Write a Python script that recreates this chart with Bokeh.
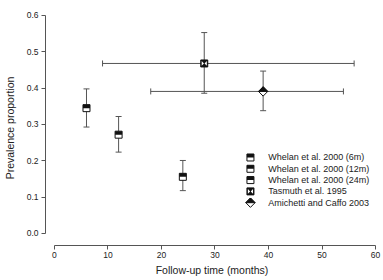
from bokeh.plotting import figure
from bokeh.models import Range1d, FixedTicker, PrintfTickFormatter, Whisker, TeeHead, ColumnDataSource
from bokeh.embed import file_html
from bokeh.resources import INLINE
from bokeh.core.properties import value

# ---------------- data ----------------
study_names = ["Whelan et al. 2000 (6m)", "Whelan et al. 2000 (12m)",
               "Whelan et al. 2000 (24m)", "Tasmuth et al. 1995",
               "Amichetti and Caffo 2003"]
whelan_time = [6, 12, 24]
whelan_prev = [0.345, 0.272, 0.156]
whelan_lower = [0.293, 0.224, 0.118]
whelan_upper = [0.398, 0.322, 0.201]

tasmuth_time = [28]
tasmuth_time_lower = [9]
tasmuth_time_upper = [56]
tasmuth_prev = [0.468]
tasmuth_lower = [0.386]
tasmuth_upper = [0.553]

amichetti_time = [39]
amichetti_time_lower = [18]
amichetti_time_upper = [54]
amichetti_prev = [0.391]
amichetti_lower = [0.338]
amichetti_upper = [0.447]

x_ticks = [0, 10, 20, 30, 40, 50, 60]
y_ticks = [0.0, 0.1, 0.2, 0.3, 0.4, 0.5, 0.6]

# ---------------- layout / style ----------------
FONT = "Liberation Sans"
INK = "#111111"
LINE = "#555555"
TEXT = "#222222"

X_START, X_END = -1.6564, 60.5521
Y_START, Y_END = -0.03303, 0.61376
FRAME_W, FRAME_H = 338, 235
PX = (X_END - X_START) / FRAME_W   # data units per screen px (x)
PY = (Y_END - Y_START) / FRAME_H   # data units per screen px (y)

legend_sym_x = 36.63
legend_txt_x = 39.94
legend_top = 0.2092
legend_step = 0.0311

p = figure(width=383, height=280, x_range=Range1d(X_START, X_END),
           y_range=Range1d(Y_START, Y_END), output_backend="svg",
           toolbar_location=None, min_border_left=40, min_border_right=5,
           min_border_top=10, min_border_bottom=35)
p.outline_line_color = None
p.xgrid.visible = False
p.ygrid.visible = False
p.background_fill_color = "white"

for ax, ticks, lo, hi in ((p.xaxis[0], x_ticks, 0, 60), (p.yaxis[0], y_ticks, 0, 0.6)):
    ax.bounds = (lo, hi)
    ax.ticker = FixedTicker(ticks=ticks, minor_ticks=[])
    ax.axis_line_color = LINE
    ax.major_tick_line_color = LINE
    ax.major_tick_out = 4
    ax.major_tick_in = 0
    ax.minor_tick_out = 0
    ax.minor_tick_in = 0
    ax.major_label_text_font = FONT
    ax.major_label_text_font_size = "8.5px"
    ax.major_label_text_color = TEXT
    ax.axis_label_text_font = FONT
    ax.axis_label_text_font_size = "10.5px"
    ax.axis_label_text_font_style = "normal"
    ax.axis_label_text_color = TEXT

p.yaxis[0].formatter = PrintfTickFormatter(format="%.1f")
p.xaxis[0].axis_label = "Follow-up time (months)"
p.yaxis[0].axis_label = "Prevalence proportion"
p.xaxis[0].major_label_standoff = 2
p.xaxis[0].axis_label_standoff = 3
p.yaxis[0].major_label_standoff = 3
p.yaxis[0].axis_label_standoff = 8


def vbars(xs, lows, highs):
    src = ColumnDataSource(dict(base=xs, lower=lows, upper=highs))
    w = Whisker(source=src, base="base", lower="lower", upper="upper",
                dimension="height", line_color=LINE, line_width=1,
                upper_head=TeeHead(size=6, line_color=LINE, line_width=1),
                lower_head=TeeHead(size=6, line_color=LINE, line_width=1))
    p.add_layout(w)


def hbars(ys, lows, highs):
    src = ColumnDataSource(dict(base=ys, lower=lows, upper=highs))
    w = Whisker(source=src, base="base", lower="lower", upper="upper",
                dimension="width", line_color=LINE, line_width=1,
                upper_head=TeeHead(size=6, line_color=LINE, line_width=1),
                lower_head=TeeHead(size=6, line_color=LINE, line_width=1))
    p.add_layout(w)


def half_square(xs, ys):
    p.rect(xs, ys, width=7, height=7, width_units="screen", height_units="screen",
           fill_color="white", line_color=INK, line_width=1)
    p.rect(xs, [y + 1.75 * PY for y in ys], width=7, height=3.5,
           width_units="screen", height_units="screen",
           fill_color=INK, line_color=None)


def hourglass(xs, ys):
    p.rect(xs, ys, width=7, height=7, width_units="screen", height_units="screen",
           fill_color=INK, line_color=INK, line_width=1)
    txs, tys = [], []
    for x, y in zip(xs, ys):
        txs.append([x - 2.6 * PX, x - 2.6 * PX, x - 0.3 * PX])
        tys.append([y + 2.4 * PY, y - 2.4 * PY, y])
        txs.append([x + 2.6 * PX, x + 2.6 * PX, x + 0.3 * PX])
        tys.append([y + 2.4 * PY, y - 2.4 * PY, y])
    p.patches(txs, tys, fill_color="white", line_color=None)


def half_diamond(xs, ys):
    r = 4.7
    dxs, dys, txs, tys = [], [], [], []
    for x, y in zip(xs, ys):
        dxs.append([x - r * PX, x, x + r * PX, x])
        dys.append([y, y + r * PY, y, y - r * PY])
        txs.append([x - r * PX, x, x + r * PX])
        tys.append([y, y + r * PY, y])
    p.patches(dxs, dys, fill_color="white", line_color=INK, line_width=1)
    p.patches(txs, tys, fill_color=INK, line_color=INK, line_width=1)


# error bars
vbars(whelan_time, whelan_lower, whelan_upper)
vbars(tasmuth_time, tasmuth_lower, tasmuth_upper)
hbars(tasmuth_prev, tasmuth_time_lower, tasmuth_time_upper)
vbars(amichetti_time, amichetti_lower, amichetti_upper)
hbars(amichetti_prev, amichetti_time_lower, amichetti_time_upper)

# points
half_square(whelan_time, whelan_prev)
hourglass(tasmuth_time, tasmuth_prev)
half_diamond(amichetti_time, amichetti_prev)

# legend (drawn by hand, R style, no box)
rows = [legend_top - i * legend_step for i in range(len(study_names))]
half_square([legend_sym_x] * 3, rows[:3])
hourglass([legend_sym_x], [rows[3]])
half_diamond([legend_sym_x], [rows[4]])
p.text(x=[legend_txt_x] * len(study_names), y=rows, text=study_names,
       text_font=value(FONT), text_font_size="9px", text_color=TEXT,
       text_baseline="middle", text_align="left")

open("out.html", "w").write(file_html(p, INLINE))
